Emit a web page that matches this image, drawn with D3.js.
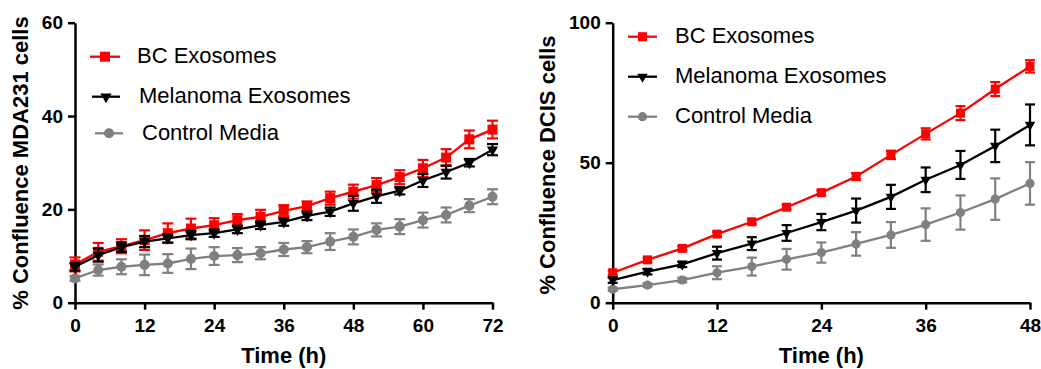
<!DOCTYPE html>
<html>
<head>
<meta charset="utf-8">
<script src="https://cdn.jsdelivr.net/npm/d3@7"></script>
<style>
  body { margin: 0; background: #fff; }
  svg { display: block; font-family: "Liberation Sans", Arial, sans-serif; }
  .axis path, .axis line { stroke: #000; stroke-width: 2.5px; }
  .axis text { font-size: 19px; font-weight: bold; fill: #000; }
  .aText { font-size: 22px; font-weight: bold; fill: #000; }
  .lText { font-size: 22px; fill: #000; }
</style>
</head>
<body>
<div id="chart"></div>
<script>
var svgWidth = 1041;
var svgHeight = 369;

// Left panel: MDA231 cells, every 4 h up to 72 h
var timeA = [0, 4, 8, 12, 16, 20, 24, 28, 32, 36, 40, 44, 48, 52, 56, 60, 64, 68, 72];
var bcA = [8.2, 10.9, 12.1, 13.4, 14.9, 15.9, 16.6, 17.7, 18.4, 19.7, 20.7, 22.4, 23.8, 25.2, 26.9, 28.8, 31.1, 35.0, 37.1];
var bcErrA = [1.5, 1.9, 1.5, 2.1, 2.1, 2.1, 1.5, 1.3, 1.5, 1.2, 1.0, 1.4, 1.5, 1.5, 1.5, 1.8, 1.8, 1.9, 1.9];
var melA = [7.7, 10.2, 11.9, 13.1, 13.8, 14.5, 14.9, 15.7, 16.6, 17.3, 18.6, 19.5, 21.3, 22.8, 24.0, 26.2, 28.0, 30.0, 32.8];
var melErrA = [0.8, 1.4, 1.0, 1.2, 0.9, 0.9, 0.8, 0.8, 0.8, 0.8, 0.9, 0.9, 1.6, 1.4, 0.8, 1.4, 1.4, 0.8, 1.2];
var ctrlA = [5.2, 7.0, 7.7, 8.1, 8.4, 9.4, 10.0, 10.2, 10.6, 11.4, 11.9, 13.1, 14.1, 15.6, 16.3, 17.7, 18.8, 20.8, 22.7];
var ctrlErrA = [0.5, 1.2, 1.6, 2.2, 2.0, 2.2, 1.9, 1.5, 1.3, 1.4, 1.3, 1.8, 1.6, 1.4, 1.6, 1.6, 1.6, 1.4, 1.6];
var xTicksA = [0, 12, 24, 36, 48, 60, 72];
var yTicksA = [0, 20, 40, 60];

// Right panel: DCIS cells, every 4 h up to 48 h
var timeB = [0, 4, 8, 12, 16, 20, 24, 28, 32, 36, 40, 44, 48];
var bcB = [10.7, 15.3, 19.4, 24.5, 28.9, 34.1, 39.3, 45.1, 52.8, 60.3, 67.7, 76.3, 84.4];
var bcErrB = [0.8, 0.8, 0.8, 0.8, 0.8, 0.8, 0.8, 1.2, 1.5, 2.0, 2.5, 2.5, 2.2];
var melB = [8.1, 11.1, 13.7, 17.7, 21.1, 24.9, 28.8, 32.9, 37.8, 43.9, 49.2, 56.0, 63.5];
var melErrB = [1.0, 1.0, 1.0, 2.3, 2.3, 2.8, 2.9, 4.3, 4.3, 4.4, 5.0, 5.8, 7.3];
var ctrlB = [4.8, 6.3, 8.1, 10.7, 12.9, 15.5, 17.9, 21.0, 24.2, 27.9, 32.2, 37.0, 42.6];
var ctrlErrB = [0.6, 0.6, 0.8, 2.3, 3.2, 3.7, 3.6, 4.2, 4.6, 5.8, 6.1, 7.4, 7.6];
var xTicksB = [0, 12, 24, 36, 48];
var yTicksB = [0, 50, 100];

var seriesNames = ["BC Exosomes", "Melanoma Exosomes", "Control Media"];
var seriesColors = ["#ff0000", "#000000", "#808080"];

var svg = d3.select("#chart")
  .append("svg")
  .attr("width", svgWidth)
  .attr("height", svgHeight);

function drawPanel(p) {
  var xScale = d3.scaleLinear().domain(p.xDomain).range([p.left, p.right]);
  var yScale = d3.scaleLinear().domain(p.yDomain).range([p.bottom, p.top]);

  svg.append("g")
    .attr("class", "axis")
    .attr("transform", `translate(0, ${p.bottom})`)
    .call(d3.axisBottom(xScale).tickValues(p.xTicks).tickSize(7).tickSizeOuter(0).tickPadding(9))
    .call(g => g.selectAll("text").attr("dy", "0.71em"));

  svg.append("g")
    .attr("class", "axis")
    .attr("transform", `translate(${p.left}, 0)`)
    .call(d3.axisLeft(yScale).tickValues(p.yTicks).tickSize(7).tickSizeOuter(0).tickPadding(5));

  // series: control first, then BC, melanoma on top
  var order = [2, 0, 1];
  var markerSize = [p.sq, p.tri, p.circ];
  var markerType = [d3.symbolSquare, d3.symbolTriangle, d3.symbolCircle];

  order.forEach(function(i) {
    var vals = p.values[i];
    var errs = p.errors[i];
    var color = seriesColors[i];
    var pts = p.time.map((t, k) => ({ t: t, v: vals[k], e: errs[k] }));
    var g = svg.append("g");

    // error bars with caps
    var bars = g.selectAll(".eb").data(pts).enter().append("g");
    bars.append("line")
      .attr("x1", d => xScale(d.t)).attr("x2", d => xScale(d.t))
      .attr("y1", d => yScale(d.v - d.e)).attr("y2", d => yScale(d.v + d.e))
      .attr("stroke", color).attr("stroke-width", 2.2);
    [-1, 1].forEach(function(s) {
      bars.append("line")
        .attr("x1", d => xScale(d.t) - p.cap / 2).attr("x2", d => xScale(d.t) + p.cap / 2)
        .attr("y1", d => yScale(d.v + s * d.e)).attr("y2", d => yScale(d.v + s * d.e))
        .attr("stroke", color).attr("stroke-width", 2.2);
    });

    g.append("path")
      .datum(pts)
      .attr("fill", "none")
      .attr("stroke", color)
      .attr("stroke-width", 2.3)
      .attr("d", d3.line().x(d => xScale(d.t)).y(d => yScale(d.v)));

    g.selectAll(".mk").data(pts).enter().append("path")
      .attr("d", d3.symbol().type(markerType[i]).size(markerSize[i]))
      .attr("transform", d => `translate(${xScale(d.t)}, ${yScale(d.v)})` + (i === 1 ? " rotate(180)" : ""))
      .attr("fill", color);
  });

  // legend
  seriesNames.forEach(function(name, i) {
    var lg = p.legend[i];
    svg.append("line")
      .attr("x1", lg.x1).attr("x2", lg.x2).attr("y1", lg.y).attr("y2", lg.y)
      .attr("stroke", seriesColors[i]).attr("stroke-width", 2.3);
    svg.append("path")
      .attr("d", d3.symbol().type(markerType[i]).size(markerSize[i]))
      .attr("transform", `translate(${(lg.x1 + lg.x2) / 2}, ${lg.y})` + (i === 1 ? " rotate(180)" : ""))
      .attr("fill", seriesColors[i]);
    svg.append("text")
      .attr("class", "lText")
      .attr("x", lg.tx)
      .attr("y", lg.ty)
      .text(name);
  });

  // axis titles
  svg.append("text")
    .attr("class", "aText")
    .attr("text-anchor", "middle")
    .attr("x", (p.left + p.right) / 2)
    .attr("y", 363)
    .text("Time (h)");

  svg.append("text")
    .attr("class", "aText")
    .attr("text-anchor", "middle")
    .attr("transform", `translate(${p.titleX}, ${p.titleY}) rotate(-90)`)
    .text(p.yTitle);
}

drawPanel({
  left: 75, right: 492.5, top: 22.7, bottom: 302.7,
  xDomain: [0, 72], yDomain: [0, 60], xTicks: xTicksA, yTicks: yTicksA,
  time: timeA,
  values: [bcA, melA, ctrlA], errors: [bcErrA, melErrA, ctrlErrA],
  sq: 100, tri: 55, circ: 80, cap: 11,
  yTitle: "% Confluence MDA231 cells", titleX: 28, titleY: 163,
  legend: [
    { x1: 90, x2: 120, y: 56.7, tx: 137, ty: 63.3 },
    { x1: 92, x2: 120, y: 96.7, tx: 139, ty: 103.3 },
    { x1: 95, x2: 123, y: 133.3, tx: 142, ty: 140 }
  ]
});

drawPanel({
  left: 612.7, right: 1030, top: 22.7, bottom: 302.7,
  xDomain: [0, 48], yDomain: [0, 100], xTicks: xTicksB, yTicks: yTicksB,
  time: timeB,
  values: [bcB, melB, ctrlB], errors: [bcErrB, melErrB, ctrlErrB],
  sq: 81, tri: 48, circ: 66, cap: 10,
  yTitle: "% Confluence DCIS cells", titleX: 555, titleY: 165,
  legend: [
    { x1: 628, x2: 657, y: 36.7, tx: 675, ty: 43.3 },
    { x1: 628, x2: 657, y: 76.7, tx: 675, ty: 83.3 },
    { x1: 628, x2: 657, y: 116.7, tx: 675, ty: 123.3 }
  ]
});
</script>
</body>
</html>
